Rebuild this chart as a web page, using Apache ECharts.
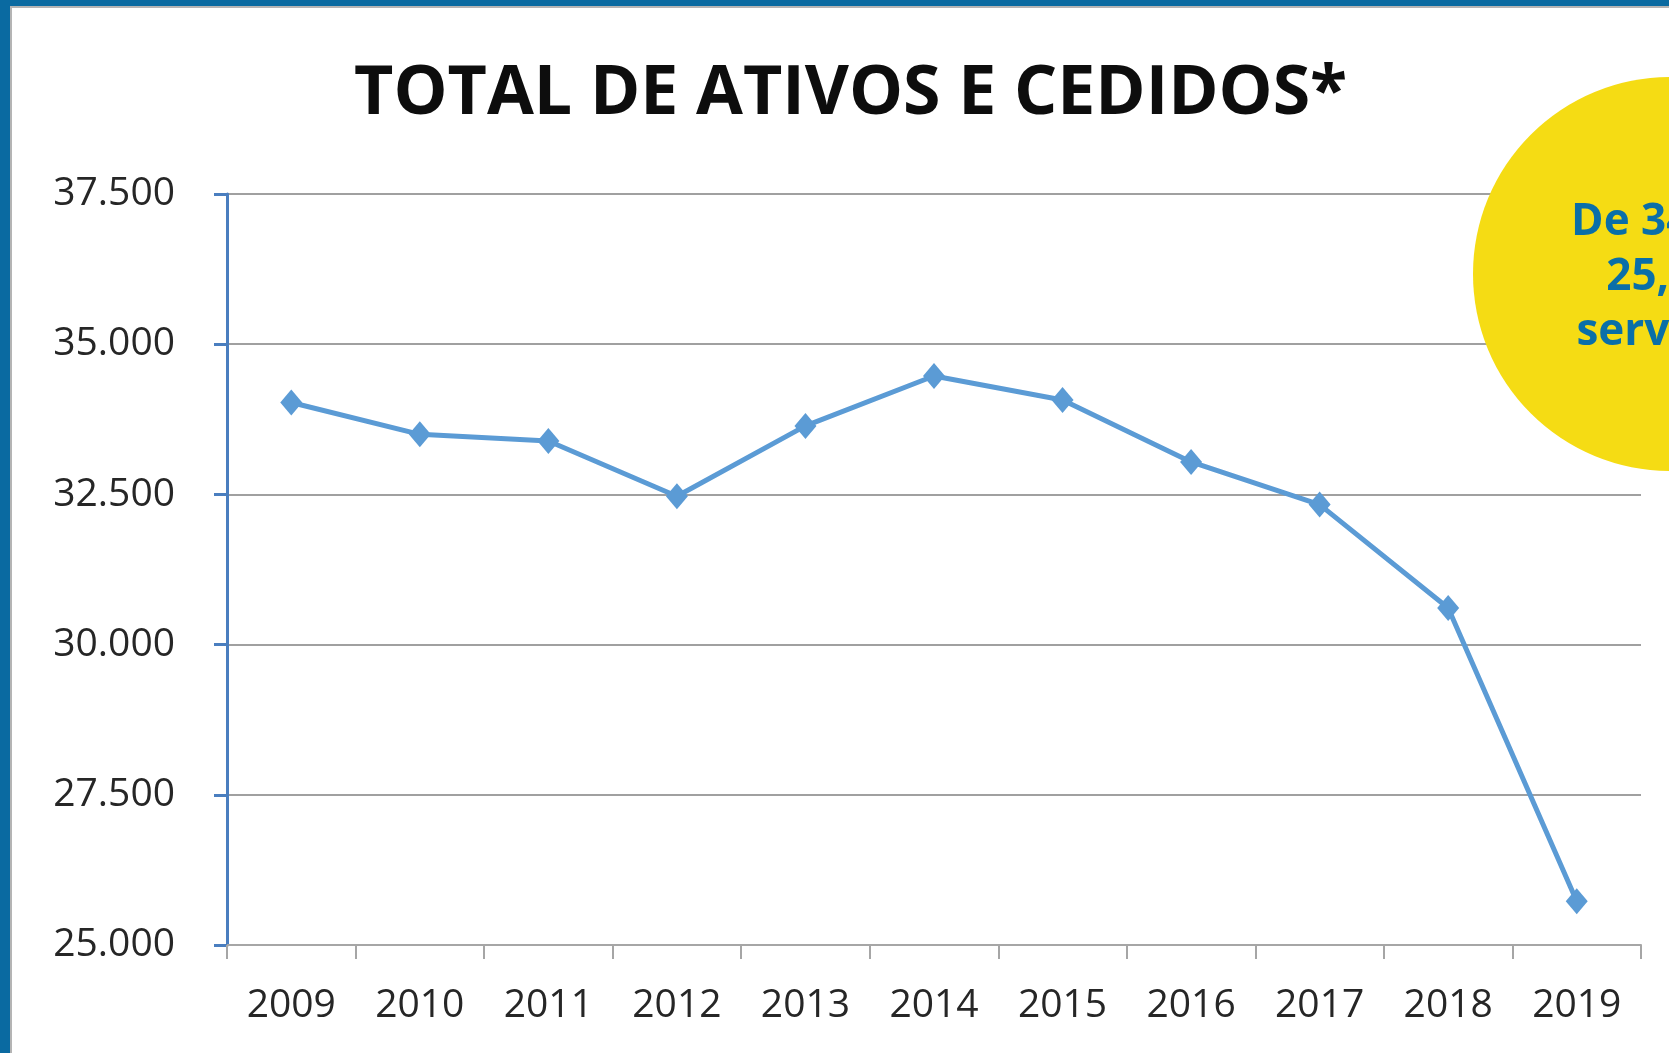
<!DOCTYPE html>
<html>
<head>
<meta charset="utf-8">
<title>Total de ativos e cedidos</title>
<script src="https://cdn.jsdelivr.net/npm/echarts@6/dist/echarts.min.js"></script>
<style>
  html,body{margin:0;padding:0;background:#fff;}
  #main{width:1669px;height:1053px;}
</style>
</head>
<body>
<div id="main"></div>
<script>
// dados
const anos = ['2009','2010','2011','2012','2013','2014','2015','2016','2017','2018','2019'];
const totalServidores = [34030, 33500, 33390, 32470, 33640, 34470, 34070, 33040, 32330, 30610, 25730];
const yMin = 25000, yMax = 37500, yPasso = 2500;
const notaCirculo = ['De 34 mil a', '25,7 mil', 'servidores'];

let chart = echarts.init(document.getElementById('main'));

let option = {
  backgroundColor: '#fff',
  animation: false,
  title: {
    text: 'TOTAL DE ATIVOS E CEDIDOS*',
    left: 354,
    top: 61,
    padding: 0,
    textStyle: {
      fontFamily: 'Open Sans',
      fontWeight: 'bold',
      fontSize: 68,
      color: '#0d0d0d'
    }
  },
  grid: { left: 227, right: 28, top: 194, bottom: 108 },
  xAxis: {
    type: 'category',
    data: anos,
    boundaryGap: true,
    axisLine: { lineStyle: { color: '#a6a6a6', width: 2 } },
    axisTick: { show: true, length: 14, lineStyle: { color: '#a6a6a6', width: 2 } },
    axisLabel: { margin: 41, fontFamily: 'Open Sans', fontSize: 39, color: '#262626' },
    splitLine: { show: false }
  },
  yAxis: {
    type: 'value',
    min: yMin,
    max: yMax,
    interval: yPasso,
    axisLine: { show: true, lineStyle: { color: '#4a7ebf', width: 3 } },
    axisTick: { show: true, length: 13, lineStyle: { color: '#4a7ebf', width: 3 } },
    axisLabel: {
      margin: 52,
      fontFamily: 'Open Sans',
      fontSize: 39,
      color: '#262626',
      formatter: v => (v / 1000).toFixed(3)
    },
    splitLine: { lineStyle: { color: '#a0a0a0', width: 2 } }
  },
  series: [{
    name: 'Total de ativos e cedidos',
    type: 'line',
    data: totalServidores,
    symbol: 'diamond',
    symbolSize: [22, 26],
    lineStyle: { color: '#5b9bd5', width: 5 },
    itemStyle: { color: '#5b9bd5' },
    z: 3
  }],
  graphic: [
    // moldura azul (esquerda e topo)
    { type: 'rect', z: 50, shape: { x: 0, y: 0, width: 10, height: 1053 }, style: { fill: '#0a6aa1' } },
    { type: 'rect', z: 50, shape: { x: 0, y: 0, width: 1669, height: 6 }, style: { fill: '#0a6aa1' } },
    { type: 'rect', z: 50, shape: { x: 10, y: 6, width: 2, height: 1047 }, style: { fill: '#b4b4b4' } },
    { type: 'rect', z: 50, shape: { x: 10, y: 6, width: 1659, height: 2 }, style: { fill: '#b4b4b4' } },
    // círculo amarelo com a nota
    { type: 'circle', z: 60, shape: { cx: 1670, cy: 274, r: 197 }, style: { fill: '#f5dc14' } },
    {
      type: 'text', z: 61, x: 1691, y: 277,
      style: {
        text: notaCirculo.join('\n'),
        textAlign: 'center',
        textVerticalAlign: 'middle',
        fontFamily: 'Open Sans',
        fontWeight: 'bold',
        fontSize: 44,
        lineHeight: 55,
        fill: '#0a6fa8'
      }
    }
  ]
};

chart.setOption(option);
</script>
</body>
</html>
